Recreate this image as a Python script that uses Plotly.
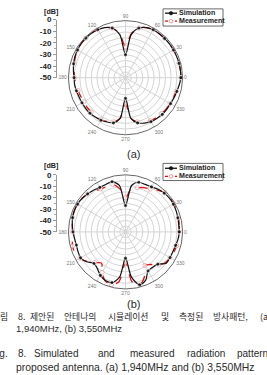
import plotly.graph_objects as go

W, H = 267, 375

# ---------------- data ----------------
theta = [i * 7.5 for i in range(49)]  # 0 .. 360

# (a) 1,940 MHz
sim_a = [-1.5, -1.5, -1.5, -1.5, -1.5, -1.5, -1.5, -1.5, -1.5, -2.5, -5, -12, -30,
         -12, -5, -2.5, -1.5, -1, -1, -1, -1.5, -2, -3, -4, -5, -5, -5.5, -6, -6, -6,
         -6, -6.5, -7, -8, -9, -14, -32, -14, -9, -7, -5.5, -5, -4.5, -4.5, -4.5, -4, -3.5, -2.5, -1.5]
meas_a = [-1.5, -1.5, -1.5, -1.5, -1.5, -1.5, -1.5, -1.5, -1.5, -2.5, -5, -11, -23,
          -11, -5, -2.5, -1.5, -1, -1, -1, -1.5, -2.5, -3.5, -4.5, -5.5, -6, -7, -7.5, -8, -7.5,
          -7.5, -7.5, -7.5, -8.5, -10, -14, -27, -14, -10, -8, -6.5, -6, -5.5, -5, -5, -4.5, -4, -2.5, -1.5]

# (b) 3,550 MHz
sim_b = [-3, -3, -2.5, -2, -1.5, -1.5, -2, -3, -4.5, -5, -5, -9, -27,
         -9, -4.5, -5, -5, -4, -3, -2, -1.5, -1.5, -2, -3, -4, -5, -5.5, -5, -4.5, -7,
         -11, -9.5, -6, -4, -4, -10, -27, -10, -2, -4, -10.5, -11, -10, -5, -5, -5, -4.5, -3.5, -3]
meas_b = [-3, -2.5, -2, -1.5, -1, -1, -1.5, -4, -6.5, -8, -10, -12, -20,
          -12, -7, -7, -6.5, -5, -3, -2, -1.5, -1.5, -2, -3, -3.5, -3, -2, -2, -4, -7.5,
          -12, -15.5, -9, -3.5, -2, -6, -23, -6, -2, -7, -16, -14, -9, -6, -5, -4, -3.5, -3, -3]

radial_ticks = [0, -10, -20, -30, -40, -50]
radial_labels = ["0", "-10", "-20", "-30", "-40", "-50"]
series_names = ["Simulation", "Measurement"]

marker_sizes = [4.2 if (t % 15 == 0) else 0 for t in theta]


def px(x):
    return x / W


def py(y):
    return 1 - y / H


fig = go.Figure()

panels = [
    dict(sub="polar", sim=sim_a, meas=meas_a, cx=125.5, cy=75.5, R=58.5),
    dict(sub="polar2", sim=sim_b, meas=meas_b, cx=125.5, cy=233.5, R=58.5),
]

for p in panels:
    fig.add_trace(go.Scatterpolar(
        r=p["meas"], theta=theta, subplot=p["sub"], mode="lines+markers",
        line=dict(color="#e01010", width=1.3, dash="dash", shape="spline", smoothing=0.8),
        marker=dict(size=marker_sizes, color="white", line=dict(color="#e08080", width=0.8)),
        showlegend=False, name=series_names[1]))
    fig.add_trace(go.Scatterpolar(
        r=p["sim"], theta=theta, subplot=p["sub"], mode="lines+markers",
        line=dict(color="#111111", width=1.2, shape="spline", smoothing=0.8),
        marker=dict(size=marker_sizes, color="#111111"),
        showlegend=False, name=series_names[0]))

polar_common = dict(
    bgcolor="white",
    radialaxis=dict(range=[-50, 0], tickmode="linear", tick0=0, dtick=5,
                    showticklabels=False, ticks="", showline=False,
                    gridcolor="#d4d4d4", gridwidth=0.6),
    angularaxis=dict(rotation=0, direction="counterclockwise", tickmode="linear",
                     dtick=30, ticksuffix="", ticks="",
                     tickfont=dict(size=5, color="#777777", family="Liberation Sans"),
                     showline=True, linecolor="#666666", linewidth=1,
                     gridcolor="#d4d4d4", gridwidth=0.6),
)

layout_polars = {}
for i, p in enumerate(panels):
    d = dict(polar_common)
    d["domain"] = dict(x=[px(p["cx"] - p["R"]), px(p["cx"] + p["R"])],
                       y=[py(p["cy"] + p["R"]), py(p["cy"] - p["R"])])
    layout_polars[p["sub"]] = d

# separate radial dB scales on the left
scales = [dict(xa="x", ya="y", top=16, bottom=75.5),
          dict(xa="x2", ya="y2", top=175, bottom=233.5)]
axes = {}
for i, s in enumerate(scales):
    fig.add_trace(go.Scatter(x=[None], y=[None], xaxis=s["xa"], yaxis=s["ya"],
                             showlegend=False, hoverinfo="skip"))
    xk = "xaxis" if i == 0 else "xaxis2"
    yk = "yaxis" if i == 0 else "yaxis2"
    axes[xk] = dict(domain=[px(57), px(58)], visible=False, anchor=s["ya"])
    axes[yk] = dict(domain=[py(s["bottom"]), py(s["top"])], anchor=s["xa"],
                    range=[-50, 0], tickmode="array", tickvals=radial_ticks,
                    ticktext=radial_labels, ticks="outside", ticklen=3, tickwidth=1,
                    tickcolor="#999999", showline=True, linecolor="#999999", linewidth=1,
                    showgrid=False, zeroline=False,
                    tickfont=dict(size=8, color="#222222", family="Liberation Sans", weight="bold"),
                    minor=dict(ticks="outside", ticklen=2, tickcolor="#aaaaaa", dtick=5, tick0=0))

shapes = []
annotations = []

# legends (drawn manually to match compact style)
for (top, r1, r2, dby) in [(5, 9.4, 17.6, 7.3), (163.3, 168.3, 176.6, 165.5)]:
    shapes.append(dict(type="rect", xref="paper", yref="paper",
                       x0=px(163), x1=px(223), y0=py(top + 17.6), y1=py(top),
                       line=dict(color="#444444", width=0.8), fillcolor="white"))
    shapes.append(dict(type="line", xref="paper", yref="paper",
                       x0=px(165), x1=px(177), y0=py(r1), y1=py(r1),
                       line=dict(color="#111111", width=1.3)))
    shapes.append(dict(type="circle", xref="paper", yref="paper",
                       x0=px(169.2), x1=px(172.8), y0=py(r1 + 1.8), y1=py(r1 - 1.8),
                       line=dict(color="#111111", width=0.5), fillcolor="#111111"))
    shapes.append(dict(type="line", xref="paper", yref="paper",
                       x0=px(165), x1=px(177), y0=py(r2), y1=py(r2),
                       line=dict(color="#e01010", width=1.3, dash="3px,2px")))
    shapes.append(dict(type="circle", xref="paper", yref="paper",
                       x0=px(169.2), x1=px(172.8), y0=py(r2 + 1.8), y1=py(r2 - 1.8),
                       line=dict(color="#e08080", width=0.8), fillcolor="white"))
    for name, yy in zip(series_names, [r1, r2]):
        annotations.append(dict(text=name, x=px(177.8), y=py(yy), xref="paper", yref="paper",
                                xanchor="left", yanchor="middle", showarrow=False, borderpad=0,
                                font=dict(size=7.1, color="#222222", family="Liberation Sans", weight="bold")))
    annotations.append(dict(text="[dB]", x=px(50.5), y=py(dby), xref="paper", yref="paper",
                            xanchor="center", yanchor="middle", showarrow=False, borderpad=0,
                            font=dict(size=7.2, color="#222222", family="Liberation Sans", weight="bold")))

for txt, x, y in [("(a)", 133, 154), ("(b)", 133, 307.6)]:
    annotations.append(dict(text=txt, x=px(x), y=py(y), xref="paper", yref="paper",
                            xanchor="center", yanchor="middle", showarrow=False, borderpad=0,
                            font=dict(size=11, color="#2a2a2a", family="Liberation Sans")))

line1 = [("그림", -9), ("8.", 17), ("제안된", 29), ("안테나의", 63), ("시뮬레이션", 107),
         ("및", 160), ("측정된", 178), ("방사패턴,", 212), ("(a)", 259)]
for w, x in line1:
    annotations.append(dict(text=w, x=px(x), y=py(320.5), xref="paper", yref="paper",
                            xanchor="left", yanchor="middle", showarrow=False, borderpad=0,
                            font=dict(size=8.8, color="#2a2a2a", family="Noto Sans CJK KR")))
annotations.append(dict(text="1,940MHz, (b) 3,550MHz", x=px(15), y=py(332.8), xref="paper",
                        yref="paper", xanchor="left", yanchor="middle", showarrow=False,
                        borderpad=0,
                        font=dict(size=9.5, color="#2a2a2a", family="Liberation Sans")))
line3 = [("Fig.", -10), ("8.", 17), ("Simulated", 33), ("and", 97), ("measured", 129),
         ("radiation", 186), ("pattern", 236)]
for w, x in line3:
    annotations.append(dict(text=w, x=px(x), y=py(358.5), xref="paper", yref="paper",
                            xanchor="left", yanchor="middle", showarrow=False, borderpad=0,
                            font=dict(size=10, color="#2a2a2a", family="Liberation Sans")))
annotations.append(dict(text="proposed antenna. (a) 1,940MHz and (b) 3,550MHz", x=px(15),
                        y=py(372), xref="paper", yref="paper", xanchor="left",
                        yanchor="middle", showarrow=False, borderpad=0,
                        font=dict(size=10.4, color="#2a2a2a", family="Liberation Sans")))

fig.update_layout(
    width=W, height=H, margin=dict(l=0, r=0, t=0, b=0),
    paper_bgcolor="white", plot_bgcolor="white",
    showlegend=False, shapes=shapes, annotations=annotations,
    **layout_polars, **axes,
)

fig.write_html("out.html")
